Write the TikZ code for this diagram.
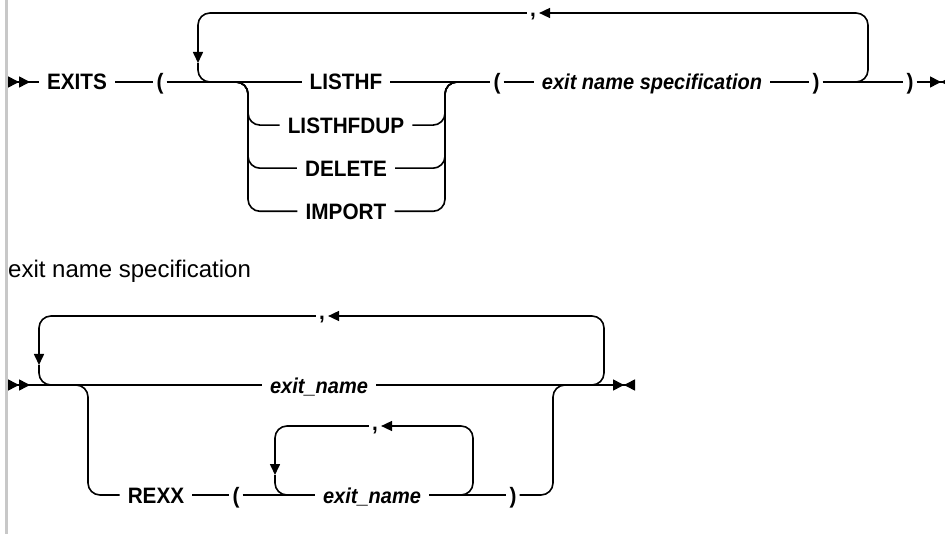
\documentclass[tikz,border=0pt]{standalone}
\usepackage{fontspec}
\setmainfont{Liberation Sans}
\newfontfamily\railfamily[FakeStretch=0.93]{Liberation Sans}
\usetikzlibrary{positioning,arrows.meta}
\definecolor{cRail}{HTML}{000000}
\definecolor{cBar}{HTML}{C8C8C8}
\newcommand{\kwfont}{\railfamily\bfseries\fontsize{22.3}{26}\selectfont}
\newcommand{\varfont}{\railfamily\bfseries\itshape\fontsize{21.5}{26}\selectfont}
\newcommand{\hdfont}{\fontsize{24}{28}\selectfont}
\tikzset{
  rail/.style   ={draw=cRail, line width=1.6pt, rounded corners=12pt},
  arr/.style    ={rail, -{Triangle[length=11pt,width=10pt]}},
  rbegin/.style ={rail, {Triangle[reversed,length=11pt,width=11pt,sep=0pt]Triangle[reversed,length=11pt,width=11pt]}-},
  rfinish/.style={rail, -{Triangle[length=11pt,width=11pt,sep=0pt]Triangle[reversed,length=11pt,width=11pt]}},
  kw/.style     ={font=\kwfont, inner xsep=8pt, inner ysep=0pt, text height=16pt, text depth=0pt},
  var/.style    ={kw, font=\varfont},
  paren/.style  ={kw, inner xsep=3pt},
  comma/.style  ={font=\kwfont, inner xsep=3pt, inner ysep=0pt, text height=8pt, text depth=0pt},
  hd/.style     ={font=\hdfont, inner sep=0pt, anchor=base west},
}
\begin{document}
\begin{tikzpicture}[x=1pt, y=-1pt]
\useasboundingbox (0,0) rectangle (945,534);
\fill[cBar] (5,0) rectangle (8,534);

\coordinate (st1) at (8,82);
\node[kw] (exits) at (77,82) {EXITS};
\node[paren] (lp1) at (160,82) {(};
\node[kw] (listhf) at (346,82) {LISTHF};
\node[kw, below=26.7pt of listhf] (dup) {LISTHFDUP};
\node[kw, below=26.7pt of dup] (del) {DELETE};
\node[kw, below=26.7pt of del] (imp) {IMPORT};
\node[paren] (lp2) at (497,82) {(};
\node[var] (ens) at (652,82) {exit name specification};
\node[paren] (rp1) at (816,82) {)};
\node[paren] (rp2) at (910,82) {)};
\coordinate (en1) at (952,82);
\coordinate (bl0) at (236,82); \coordinate (bx) at (248,82);
\coordinate (br) at (445,82); \coordinate (br1) at (458,82);
\node[comma] (c1) at (533,13) {,};
\coordinate (la1) at (198,63); \coordinate (lm1) at (214,82);
\coordinate (rl1) at (856,82); \coordinate (rt1) at (868,13);

\draw[rbegin] (st1) -- (exits);
\draw[rail] (exits) -- (lp1);
\draw[rail] (lp1) -- (listhf);
\draw[rail] (listhf) -- (lp2);
\draw[rail] (lp2) -- (ens);
\draw[rail] (ens) -- (rp1);
\draw[rail] (rp1) -- (rp2);
\draw[rfinish] (rp2) -- (en1);
\foreach \n in {dup,del,imp}{
  \draw[rail] (bl0) -- (bx) |- (\n.west);
  \draw[rail] (\n.east) -| (br) -- (br1);
}
\draw[arr] (rl1) -| (rt1) -- (c1.east);
\draw[arr] (c1.west) -| (la1);
\draw[rail] (la1) |- (lm1);

\node[hd] (spec) at (8,278) {exit name specification};
\coordinate (st2) at (8,385);
\node[var] (oen) at (319,385) {exit\_name};
\coordinate (en2) at (635,385);
\coordinate (bl2) at (76,385); \coordinate (bx2) at (88,385);
\node[kw] (rexx) at (156,495) {REXX};
\node[paren] (lp3) at (236,495) {(};
\node[var] (ien) at (372,495) {exit\_name};
\node[paren] (rp3) at (513,495) {)};
\coordinate (br2) at (553,385); \coordinate (br3) at (566,385);
\node[comma] (c2) at (322,316) {,};
\coordinate (la2) at (39,365); \coordinate (lm2) at (56,385);
\coordinate (rl2) at (592,385); \coordinate (rt2) at (604,316);
\node[comma] (c3) at (375,426) {,};
\coordinate (la3) at (275,475); \coordinate (lm3) at (292,495);
\coordinate (rl3) at (461,495); \coordinate (rt3) at (473,426);

\draw[rbegin] (st2) -- (oen);
\draw[rfinish] (oen) -- (en2);
\draw[rail] (bl2) -- (bx2) |- (rexx.west);
\draw[rail] (rexx) -- (lp3);
\draw[rail] (lp3) -- (ien);
\draw[rail] (ien) -- (rp3);
\draw[rail] (rp3.east) -| (br2) -- (br3);
\draw[arr] (rl2) -| (rt2) -- (c2.east);
\draw[arr] (c2.west) -| (la2);
\draw[rail] (la2) |- (lm2);
\draw[arr] (rl3) -| (rt3) -- (c3.east);
\draw[arr] (c3.west) -| (la3);
\draw[rail] (la3) |- (lm3);
\end{tikzpicture}
\end{document}
